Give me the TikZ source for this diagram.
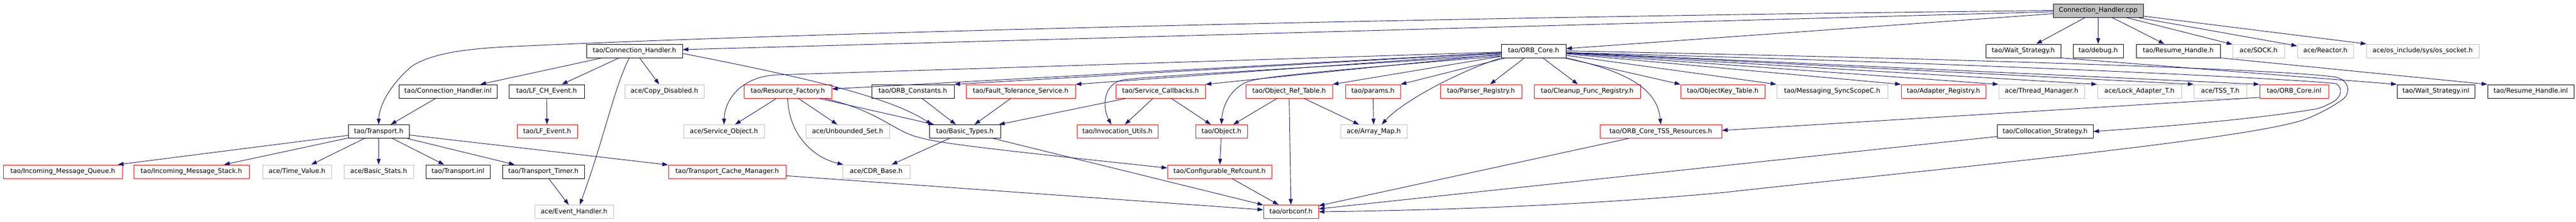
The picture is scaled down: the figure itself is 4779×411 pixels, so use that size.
\documentclass[tikz,border=0pt]{standalone}
\usepackage{fontspec}
\setmainfont{DejaVu Sans}
\usepackage{tikz}
\usetikzlibrary{arrows.meta}
\definecolor{edgeblue}{HTML}{191970}
\definecolor{boxgray}{HTML}{BFBFBF}
\def\hfile[#1](#2)(#3:#4:#5)#6{\node[#1, minimum width={(#4-#3)*0.75pt}] (#2) at ({(#3+#4)/2},#5) {#6};}
\tikzset{
	file/.style={rectangle, inner sep=0pt, minimum height=18.75pt, text height=6.8pt, text depth=2.2pt, font=\fontsize{9}{11}\selectfont, line width=0.75pt},
	blackfile/.style={file, draw=black},
	redfile/.style={file, draw=red},
	grayfile/.style={file, draw=boxgray},
	srcfile/.style={file, draw=black, fill=boxgray},
	dep/.style={draw=edgeblue, line width=0.7pt, -{Triangle[length=8pt,width=5.5pt]}},
}

\begin{document}
\begin{tikzpicture}[x=0.75pt, y=-0.75pt]
		%%%%% START %%%%%
		\useasboundingbox (0,0) rectangle (4779,411);
		
		\hfile[srcfile](cpp)(3809:3976:19.5){Connection\_Handler.cpp}
		
		\hfile[blackfile](ch_h)(1088:1266:94.5){tao/Connection\_Handler.h}
		\hfile[blackfile](orbcore_h)(2785:2905:94.5){tao/ORB\_Core.h}
		\hfile[blackfile](wait_h)(3684:3823:94.5){tao/Wait\_Strategy.h}
		\hfile[blackfile](debug_h)(3846:3939:94.5){tao/debug.h}
		\hfile[blackfile](resume_h)(3963:4119:94.5){tao/Resume\_Handle.h}
		\hfile[grayfile](sock_h)(4142:4238:94.5){ace/SOCK.h}
		\hfile[grayfile](reactor_h)(4262:4366:94.5){ace/Reactor.h}
		\hfile[grayfile](ossock_h)(4390:4599:94.5){ace/os\_include/sys/os\_socket.h}
		
		\hfile[blackfile](ch_inl)(740:922:169.5){tao/Connection\_Handler.inl}
		\hfile[blackfile](lfch_h)(944:1084:169.5){tao/LF\_CH\_Event.h}
		\hfile[grayfile](copydis_h)(1159:1306:169.5){ace/Copy\_Disabled.h}
		\hfile[redfile](resfac_h)(1380:1543:169.5){tao/Resource\_Factory.h}
		\hfile[blackfile](orbconst_h)(1617:1770:169.5){tao/ORB\_Constants.h}
		\hfile[redfile](ftserv_h)(1792:1995:169.5){tao/Fault\_Tolerance\_Service.h}
		\hfile[redfile](servcb_h)(2070:2236:169.5){tao/Service\_Callbacks.h}
		\hfile[redfile](objref_h)(2311:2472:169.5){tao/Object\_Ref\_Table.h}
		\hfile[redfile](params_h)(2496:2598:169.5){tao/params.h}
		\hfile[redfile](parser_h)(2672:2823:169.5){tao/Parser\_Registry.h}
		\hfile[redfile](cleanup_h)(2846:3043:169.5){tao/Cleanup\_Func\_Registry.h}
		\hfile[redfile](objkey_h)(3118:3274:169.5){tao/ObjectKey\_Table.h}
		\hfile[grayfile](msgsync_h)(3296:3502:169.5){tao/Messaging\_SyncScopeC.h}
		\hfile[redfile](adapter_h)(3527:3684:169.5){tao/Adapter\_Registry.h}
		\hfile[grayfile](thrmgr_h)(3708:3867:169.5){ace/Thread\_Manager.h}
		\hfile[grayfile](lockad_h)(3891:4047:169.5){ace/Lock\_Adapter\_T.h}
		\hfile[grayfile](tss_h)(4070:4168:169.5){ace/TSS\_T.h}
		\hfile[redfile](orbcore_inl)(4192:4320:169.5){tao/ORB\_Core.inl}
		\hfile[blackfile](wait_inl)(4447:4591:169.5){tao/Wait\_Strategy.inl}
		\hfile[blackfile](resume_inl)(4615:4775:169.5){tao/Resume\_Handle.inl}
		
		\hfile[blackfile](transport_h)(646:759:244){tao/Transport.h}
		\hfile[redfile](lfev_h)(959:1071:244){tao/LF\_Event.h}
		\hfile[grayfile](svcobj_h)(1268:1418:244){ace/Service\_Object.h}
		\hfile[grayfile](unbset_h)(1495:1650:244){ace/Unbounded\_Set.h}
		\hfile[blackfile](basic_h)(1724:1856:244){tao/Basic\_Types.h}
		\hfile[redfile](invoc_h)(1998:2148:244){tao/Invocation\_Utils.h}
		\hfile[redfile](object_h)(2218:2314:244){tao/Object.h}
		\hfile[grayfile](arrmap_h)(2487:2610:244){ace/Array\_Map.h}
		\hfile[redfile](tssres_h)(2968:3194:244){tao/ORB\_Core\_TSS\_Resources.h}
		\hfile[blackfile](colloc_h)(3705:3883:244){tao/Collocation\_Strategy.h}
		
		\hfile[redfile](imq_h)(6:227:318.5){tao/Incoming\_Message\_Queue.h}
		\hfile[redfile](ims_h)(248:462:318.5){tao/Incoming\_Message\_Stack.h}
		\hfile[grayfile](timeval_h)(487:615:318.5){ace/Time\_Value.h}
		\hfile[grayfile](bstats_h)(638:767:318.5){ace/Basic\_Stats.h}
		\hfile[blackfile](transport_inl)(790:909:318.5){tao/Transport.inl}
		\hfile[blackfile](ttimer_h)(932:1084:318.5){tao/Transport\_Timer.h}
		\hfile[redfile](tcm_h)(1240:1458:318.5){tao/Transport\_Cache\_Manager.h}
		\hfile[grayfile](cdr_h)(1563:1688:318.5){ace/CDR\_Base.h}
		\hfile[redfile](refcnt_h)(2166:2359:318.5){tao/Configurable\_Refcount.h}
		
		\hfile[grayfile](evh_h)(992:1138:393){ace/Event\_Handler.h}
		\hfile[redfile](orbconf_h)(2344:2446:393){tao/orbconf.h}
		
		% Connection_Handler.cpp
		\draw[dep] (cpp) -- (ch_h);
		\draw[dep] (cpp.west) .. controls (2800,30) and (1600,57) .. (979,85) .. controls (880,89) and (810,95) .. (765,122) .. controls (720,160) and (703,200) .. (transport_h.north);
		\draw[dep] (cpp) -- (orbcore_h);
		\draw[dep] (cpp) -- (wait_h);
		\draw[dep] (cpp) -- (debug_h);
		\draw[dep] (cpp) -- (resume_h);
		\draw[dep] (cpp) -- (sock_h);
		\draw[dep] (cpp) -- (reactor_h);
		\draw[dep] (cpp) -- (ossock_h);
		
		% Connection_Handler.h
		\draw[dep] (ch_h) -- (ch_inl);
		\draw[dep] (ch_h) -- (lfch_h);
		\draw[dep] (ch_h) -- (copydis_h);
		\draw[dep] (ch_h.234) .. controls (1140,160) and (1120,260) .. (evh_h.51);
		\draw[dep] (ch_h.-3) .. controls (1500,145) and (1650,180) .. (basic_h.168);
		\draw[dep] (ch_inl) -- (transport_h);
		\draw[dep] (lfch_h) -- (lfev_h);
		
		% Transport.h
		\draw[dep] (transport_h) -- (imq_h);
		\draw[dep] (transport_h) -- (ims_h);
		\draw[dep] (transport_h) -- (timeval_h);
		\draw[dep] (transport_h) -- (bstats_h);
		\draw[dep] (transport_h) -- (transport_inl);
		\draw[dep] (transport_h) -- (ttimer_h);
		\draw[dep] (transport_h) -- (tcm_h);
		\draw[dep] (ttimer_h) -- (evh_h);
		\draw[dep] (tcm_h) -- (orbconf_h);
		
		% Resource_Factory.h
		\draw[dep] (resfac_h) -- (svcobj_h);
		\draw[dep] (resfac_h) -- (unbset_h);
		\draw[dep] (resfac_h.south) .. controls (1462,240) and (1500,290) .. (cdr_h.168);
		\draw[dep] (resfac_h) -- (basic_h);
		\draw[dep] (resfac_h.-11) .. controls (1630,205) and (1660,245) .. (1705,255) .. controls (1740,265) and (1800,273) .. (refcnt_h.176);
		
		\draw[dep] (orbconst_h) -- (basic_h);
		\draw[dep] (ftserv_h) -- (basic_h);
		\draw[dep] (servcb_h) -- (basic_h);
		\draw[dep] (servcb_h) -- (invoc_h);
		\draw[dep] (servcb_h) -- (object_h);
		\draw[dep] (objref_h) -- (object_h);
		\draw[dep] (objref_h) -- (orbconf_h);
		\draw[dep] (objref_h) -- (arrmap_h);
		\draw[dep] (params_h) -- (arrmap_h);
		\draw[dep] (object_h) -- (refcnt_h);
		\draw[dep] (refcnt_h) -- (orbconf_h);
		\draw[dep] (basic_h) -- (cdr_h);
		\draw[dep] (basic_h) -- (orbconf_h);
		\draw[dep] (tssres_h) -- (orbconf_h);
		\draw[dep] (colloc_h) -- (orbconf_h);
		\draw[dep] (orbcore_inl.190) -- (tssres_h.1);
		\draw[dep] (wait_h.south east) -- (wait_inl.north west);
		\draw[dep] (resume_h.south east) -- (resume_inl.north west);
		
		% ORB_Core.h
		\draw[dep] (orbcore_h) -- (resfac_h);
		\draw[dep] (orbcore_h.182) -- (1440,139) .. controls (1380,142) and (1345,180) .. (svcobj_h.north);
		\draw[dep] (orbcore_h) -- (orbconst_h.north east);
		\draw[dep] (orbcore_h) -- (ftserv_h.north east);
		\draw[dep] (orbcore_h) -- (servcb_h.north east);
		\draw[dep] (orbcore_h.187) .. controls (2400,128) and (2150,140) .. (2085,148) .. controls (2045,155) and (2045,200) .. (invoc_h.131);
		\draw[dep] (orbcore_h.189) .. controls (2500,128) and (2360,140) .. (2320,150) .. controls (2285,160) and (2268,195) .. (object_h.north);
		\draw[dep] (orbcore_h) -- (objref_h.north east);
		\draw[dep] (orbcore_h) -- (params_h.north east);
		\draw[dep] (orbcore_h.south west) .. controls (2700,135) and (2600,190) .. (arrmap_h.41);
		\draw[dep] (orbcore_h) -- (parser_h);
		\draw[dep] (orbcore_h) -- (cleanup_h);
		\draw[dep] (orbcore_h.south east) .. controls (3030,135) and (3075,170) .. (tssres_h.north);
		\draw[dep] (orbcore_h) -- (objkey_h.north west);
		\draw[dep] (orbcore_h) -- (msgsync_h.north west);
		\draw[dep] (orbcore_h) -- (adapter_h.north west);
		\draw[dep] (orbcore_h) -- (thrmgr_h.north west);
		\draw[dep] (orbcore_h) -- (lockad_h.north west);
		\draw[dep] (orbcore_h) -- (tss_h.north west);
		\draw[dep] (orbcore_h) -- (orbcore_inl.north west);
		\draw[dep] (orbcore_h.east) .. controls (3600,108) and (4230,128) .. (4333,143) .. controls (4362,150) and (4358,175) .. (4348,183) .. controls (4325,200) and (4295,215) .. (4272,223) .. controls (4150,262) and (3550,318) .. (3200,357) .. controls (2900,385) and (2600,391) .. (orbconf_h.east);
		\draw[dep] (orbcore_h.-3) .. controls (3600,115) and (4240,145) .. (4333,155) .. controls (4347,162) and (4344,180) .. (4330,188) .. controls (4318,195) and (4308,199) .. (4298,202) .. controls (4180,222) and (4000,236) .. (colloc_h.east);
		%%%%% END %%%%%
\end{tikzpicture}
\end{document}
